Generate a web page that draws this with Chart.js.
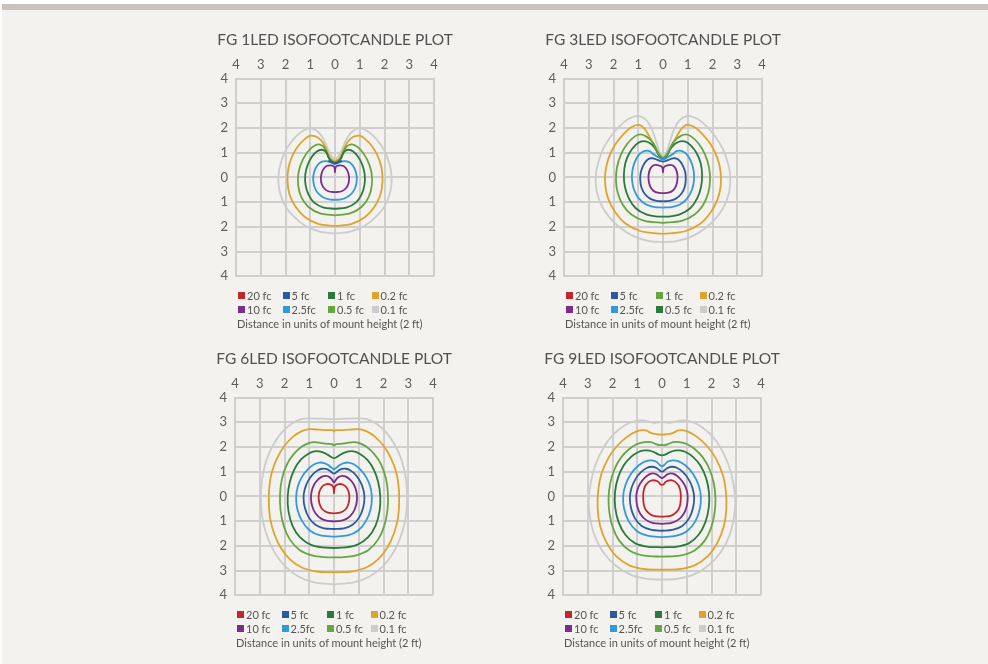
<!DOCTYPE html>
<html>
<head>
<meta charset="utf-8">
<script src="https://cdn.jsdelivr.net/npm/chart.js@4.4.1/dist/chart.umd.min.js"></script>
<style>
  html, body { margin: 0; padding: 0; background: #fff; }
  body { width: 988px; height: 664px; position: relative; overflow: hidden; font-family: Lato, "Open Sans", sans-serif; }
  #panel { position: absolute; left: 2px; top: 4px; right: 0; bottom: 0; background: #f3f2ee; border-top: 6px solid #c8c3be; }
  .plot canvas { position: absolute; }
  .legend { position: absolute; display: grid; grid-template-columns: 44.5px 45.5px 43.5px 60px; grid-auto-flow: column; grid-template-rows: 14.5px 14.5px; font-size: 11px; color: #555; }
  .legend span { display: flex; align-items: center; white-space: nowrap; }
  .legend i { display: inline-block; width: 7px; height: 7px; margin-right: 2px; }
  .caption { position: absolute; font-size: 11px; color: #555; white-space: nowrap; line-height: 14.5px; }
</style>
</head>
<body>
<div id="panel"></div>

<script>
// legend order is column by column: 20/10, 5/2.5, 1/0.5, 0.2/0.1
const levelLabels = ["20 fc", "10 fc", "5 fc", "2.5fc", "1 fc", "0.5 fc", "0.2 fc", "0.1 fc"];
const axisTicks = [-4, -3, -2, -1, 0, 1, 2, 3, 4];
const titles = ["FG 1LED ISOFOOTCANDLE PLOT", "FG 3LED ISOFOOTCANDLE PLOT", "FG 6LED ISOFOOTCANDLE PLOT", "FG 9LED ISOFOOTCANDLE PLOT"];
const caption = "Distance in units of mount height (2 ft)";

// right half of each contour, from top centre round to bottom centre (x, y in mount heights)
// FG 1LED
const p1_20 = [];
const p1_10 = [[0,0.2],[0.02,0.4],[0.07,0.46],[0.18,0.49],[0.32,0.47],[0.45,0.36],[0.54,0.17],[0.57,-0.05],[0.54,-0.26],[0.44,-0.44],[0.27,-0.56],[0,-0.6]];
const p1_5 = [[0,0.57],[0.1,0.6],[0.2,0.64],[0.28,0.66]];
const p1_25 = [[0,0.54],[0.1,0.58],[0.22,0.63],[0.38,0.66],[0.52,0.64],[0.66,0.55],[0.78,0.38],[0.86,0.15],[0.88,-0.1],[0.83,-0.38],[0.7,-0.62],[0.48,-0.8],[0.24,-0.89],[0,-0.91]];
const p1_1 = [[0,0.58],[0.1,0.62],[0.2,0.7],[0.27,0.82],[0.33,0.98],[0.42,1.08],[0.55,1.12],[0.72,1.06],[0.92,0.86],[1.1,0.52],[1.2,0.12],[1.19,-0.3],[1.07,-0.7],[0.84,-1.02],[0.46,-1.22],[0,-1.27]];
const p1_05 = [[0,0.62],[0.12,0.66],[0.22,0.76],[0.3,0.92],[0.37,1.1],[0.47,1.25],[0.62,1.33],[0.8,1.3],[1.05,1.1],[1.3,0.72],[1.47,0.22],[1.49,-0.3],[1.36,-0.8],[1.07,-1.2],[0.6,-1.46],[0,-1.54]];
const p1_02 = [[0,0.66],[0.1,0.7],[0.2,0.8],[0.28,0.98],[0.38,1.2],[0.5,1.42],[0.65,1.58],[0.82,1.67],[1.0,1.69],[1.2,1.57],[1.48,1.28],[1.72,0.88],[1.88,0.38],[1.92,-0.15],[1.84,-0.68],[1.6,-1.18],[1.22,-1.6],[0.68,-1.88],[0,-1.97]];
const p1_01 = [[0,0.74],[0.1,0.8],[0.2,0.98],[0.3,1.18],[0.4,1.42],[0.52,1.65],[0.7,1.86],[0.9,1.97],[1.05,1.98],[1.35,1.85],[1.7,1.52],[2.0,1.08],[2.2,0.55],[2.29,0],[2.24,-0.55],[2.04,-1.1],[1.7,-1.55],[1.22,-1.95],[0.62,-2.2],[0,-2.27]];

// FG 3LED
const p2_20 = [];
const p2_10 = [[0,0.2],[0.02,0.38],[0.08,0.45],[0.22,0.5],[0.38,0.49],[0.51,0.36],[0.58,0.12],[0.58,-0.12],[0.52,-0.36],[0.4,-0.53],[0.22,-0.62],[0,-0.64]];
const p2_5 = [[0,0.64],[0.12,0.67],[0.25,0.72],[0.4,0.77],[0.56,0.76],[0.7,0.64],[0.82,0.44],[0.9,0.2],[0.92,-0.08],[0.88,-0.38],[0.75,-0.65],[0.52,-0.86],[0.26,-0.95],[0,-0.97]];
const p2_25 = [[0,0.72],[0.1,0.76],[0.2,0.82],[0.32,0.9],[0.42,0.96],[0.5,1.04],[0.65,1.08],[0.82,1.04],[1.0,0.88],[1.15,0.6],[1.24,0.25],[1.25,-0.12],[1.17,-0.5],[0.98,-0.85],[0.68,-1.1],[0.35,-1.2],[0,-1.22]];
const p2_1 = [[0,0.8],[0.1,0.86],[0.2,1.0],[0.3,1.22],[0.4,1.4],[0.55,1.56],[0.72,1.68],[0.92,1.74],[1.15,1.65],[1.45,1.35],[1.7,0.92],[1.86,0.4],[1.9,-0.12],[1.83,-0.62],[1.62,-1.12],[1.28,-1.5],[0.75,-1.76],[0,-1.84]];
const p2_05 = [[0,0.76],[0.1,0.82],[0.2,0.95],[0.28,1.12],[0.38,1.26],[0.52,1.38],[0.7,1.46],[0.9,1.45],[1.12,1.3],[1.35,1.0],[1.52,0.58],[1.58,0.1],[1.54,-0.38],[1.38,-0.85],[1.1,-1.25],[0.68,-1.5],[0.3,-1.58],[0,-1.59]];
const p2_02 = [[0,0.78],[0.1,0.86],[0.2,1.0],[0.3,1.18],[0.4,1.38],[0.52,1.6],[0.68,1.88],[0.85,2.07],[1.02,2.13],[1.3,2.02],[1.62,1.72],[1.95,1.3],[2.2,0.78],[2.33,0.2],[2.33,-0.35],[2.2,-0.9],[1.92,-1.42],[1.5,-1.88],[0.9,-2.18],[0,-2.29]];
const p2_01 = [[0,0.8],[0.08,0.9],[0.15,1.05],[0.23,1.3],[0.32,1.58],[0.42,1.88],[0.55,2.15],[0.72,2.36],[0.9,2.46],[1.1,2.48],[1.4,2.36],[1.75,2.08],[2.1,1.68],[2.42,1.15],[2.63,0.55],[2.72,0],[2.68,-0.55],[2.5,-1.1],[2.18,-1.6],[1.72,-2.05],[1.15,-2.4],[0.55,-2.58],[0,-2.62]];

// FG 6LED
const p3_20 = [[0,0.12],[0.02,0.34],[0.07,0.44],[0.2,0.5],[0.35,0.48],[0.5,0.37],[0.6,0.16],[0.62,-0.08],[0.58,-0.32],[0.47,-0.52],[0.27,-0.65],[0,-0.69]];
const p3_10 = [[0,0.56],[0.08,0.68],[0.18,0.78],[0.32,0.83],[0.48,0.8],[0.65,0.68],[0.8,0.48],[0.9,0.22],[0.93,-0.08],[0.88,-0.4],[0.75,-0.68],[0.52,-0.9],[0.26,-0.99],[0,-1.01]];
const p3_5 = [[0,0.93],[0.1,0.98],[0.2,1.06],[0.33,1.11],[0.48,1.12],[0.65,1.06],[0.85,0.9],[1.05,0.62],[1.18,0.3],[1.23,-0.05],[1.18,-0.45],[1.02,-0.85],[0.75,-1.15],[0.4,-1.29],[0,-1.32]];
const p3_25 = [[0,1.1],[0.12,1.18],[0.25,1.28],[0.4,1.35],[0.58,1.37],[0.8,1.3],[1.05,1.1],[1.3,0.78],[1.47,0.38],[1.53,-0.05],[1.48,-0.52],[1.3,-0.98],[0.98,-1.38],[0.55,-1.58],[0,-1.63]];
const p3_1 = [[0,1.55],[0.12,1.6],[0.25,1.68],[0.4,1.76],[0.6,1.82],[0.8,1.82],[1.05,1.72],[1.35,1.48],[1.6,1.1],[1.78,0.6],[1.87,0],[1.84,-0.6],[1.68,-1.18],[1.38,-1.65],[0.95,-1.95],[0.48,-2.06],[0,-2.09]];
const p3_05 = [[0,2.06],[0.08,2.12],[0.25,2.13],[0.5,2.16],[0.78,2.2],[1.0,2.17],[1.3,2.02],[1.62,1.72],[1.9,1.3],[2.1,0.72],[2.18,0.1],[2.16,-0.55],[2.03,-1.2],[1.78,-1.75],[1.38,-2.18],[0.85,-2.4],[0.4,-2.46],[0,-2.47]];
const p3_02 = [[0,2.62],[0.05,2.68],[0.3,2.68],[0.6,2.7],[1.0,2.72],[1.3,2.64],[1.65,2.42],[2.0,2.05],[2.3,1.55],[2.52,0.95],[2.62,0.3],[2.63,-0.3],[2.58,-0.9],[2.42,-1.5],[2.15,-2.08],[1.78,-2.55],[1.3,-2.88],[0.7,-3.04],[0,-3.07]];
const p3_01 = [[0,3.13],[0.5,3.15],[1.0,3.16],[1.3,3.14],[1.7,2.95],[2.1,2.6],[2.45,2.1],[2.72,1.5],[2.88,0.85],[2.95,0.2],[2.94,-0.45],[2.85,-1.1],[2.65,-1.75],[2.35,-2.35],[1.95,-2.85],[1.42,-3.25],[0.8,-3.48],[0,-3.56]];

// FG 9LED
const p4_20 = [[0,0.47],[0.08,0.5],[0.13,0.58],[0.25,0.64],[0.4,0.65],[0.55,0.58],[0.68,0.42],[0.75,0.18],[0.76,-0.1],[0.72,-0.4],[0.6,-0.62],[0.4,-0.77],[0.2,-0.81],[0,-0.82]];
const p4_10 = [[0,0.74],[0.1,0.8],[0.2,0.88],[0.35,0.93],[0.5,0.9],[0.7,0.75],[0.88,0.52],[1.0,0.25],[1.04,-0.05],[1.0,-0.4],[0.88,-0.7],[0.65,-0.95],[0.35,-1.08],[0,-1.11]];
const p4_5 = [[0,1.0],[0.1,1.06],[0.22,1.15],[0.4,1.2],[0.6,1.16],[0.85,0.98],[1.07,0.7],[1.23,0.35],[1.3,-0.05],[1.25,-0.48],[1.1,-0.88],[0.82,-1.2],[0.42,-1.36],[0,-1.39]];
const p4_25 = [[0,1.22],[0.1,1.28],[0.22,1.4],[0.42,1.46],[0.65,1.43],[0.95,1.25],[1.25,0.92],[1.47,0.48],[1.57,0],[1.53,-0.5],[1.35,-1.0],[1.02,-1.4],[0.55,-1.6],[0,-1.65]];
const p4_1 = [[0,1.66],[0.15,1.7],[0.3,1.78],[0.5,1.85],[0.7,1.86],[0.95,1.8],[1.25,1.6],[1.55,1.25],[1.78,0.75],[1.9,0.15],[1.89,-0.45],[1.75,-1.05],[1.48,-1.55],[1.08,-1.9],[0.55,-2.04],[0,-2.06]];
const p4_05 = [[0,2.08],[0.12,2.08],[0.25,2.12],[0.45,2.2],[0.7,2.2],[1.0,2.12],[1.32,1.92],[1.65,1.58],[1.92,1.1],[2.1,0.5],[2.16,-0.1],[2.12,-0.7],[1.98,-1.28],[1.72,-1.8],[1.3,-2.2],[0.72,-2.4],[0,-2.44]];
const p4_02 = [[0,2.5],[0.25,2.52],[0.45,2.57],[0.62,2.66],[0.8,2.68],[1.05,2.62],[1.4,2.42],[1.78,2.08],[2.15,1.58],[2.45,0.9],[2.58,0.2],[2.6,-0.5],[2.5,-1.2],[2.25,-1.85],[1.85,-2.42],[1.3,-2.8],[0.65,-2.95],[0,-2.97]];
const p4_01 = [[0,3.0],[0.15,3.0],[0.3,2.97],[0.5,3.02],[0.8,3.08],[1.1,3.05],[1.5,2.88],[1.95,2.52],[2.35,2.0],[2.68,1.3],[2.88,0.55],[2.96,-0.2],[2.9,-0.9],[2.72,-1.6],[2.38,-2.25],[1.88,-2.8],[1.25,-3.18],[0.6,-3.34],[0,-3.37]];

const plotContours = [
  [p1_20, p1_10, p1_5, p1_25, p1_1, p1_05, p1_02, p1_01],
  [p2_20, p2_10, p2_5, p2_25, p2_1, p2_05, p2_02, p2_01],
  [p3_20, p3_10, p3_5, p3_25, p3_1, p3_05, p3_02, p3_01],
  [p4_20, p4_10, p4_5, p4_25, p4_1, p4_05, p4_02, p4_01]
];

const colors = ["#c1272d", "#7b2d8c", "#2b5aa0", "#3399d8", "#2b7a3b", "#67a53f", "#dfa42b", "#cbcccd"];
// the 3LED plot has its two greens the other way round
const colors3led = ["#c1272d", "#7b2d8c", "#2b5aa0", "#3399d8", "#67a53f", "#2b7a3b", "#dfa42b", "#cbcccd"];
const plotColors = [colors, colors3led, colors, colors];

// chart area top-left corners on the page
const plotPos = [[236, 78], [564, 78], [235, 397], [563, 397]];
const AREA = 198;

function fullContour(half) {
  const left = half.slice().reverse().map(p => ({ x: -p[0], y: p[1] }));
  const right = half.slice(1).map(p => ({ x: p[0], y: p[1] }));
  return left.concat(right);
}

const gridColor = "#cfcfcf";
const textColor = "#5e5e60";

plotPos.forEach((pos, k) => {
  const [ax, ay] = pos;
  const canvas = document.createElement("canvas");
  canvas.style.left = (ax - 31) + "px";
  canvas.style.top = (ay - 53) + "px";
  canvas.width = 260;
  canvas.height = 267;
  canvas.style.width = "260px";
  canvas.style.height = "267px";
  const wrap = document.createElement("div");
  wrap.className = "plot";
  wrap.appendChild(canvas);
  document.body.appendChild(wrap);

  const datasets = levelLabels.map((lab, i) => ({
    label: lab,
    data: fullContour(plotContours[k][i]),
    borderColor: plotColors[k][i],
    backgroundColor: plotColors[k][i],
    borderWidth: 1.8,
    pointRadius: 0,
    showLine: true,
    fill: false,
    tension: 0.3
  }));

  new Chart(canvas, {
    type: "scatter",
    data: { datasets },
    options: {
      responsive: false,
      animation: false,
      layout: { padding: { left: 0, right: 0, top: 6, bottom: 8 } },
      plugins: {
        legend: { display: false },
        tooltip: { enabled: false },
        title: {
          display: true,
          text: titles[k],
          color: "#505052",
          font: { family: "Lato", size: 15.5, weight: "normal" },
          padding: { top: 0, bottom: 0 }
        }
      },
      scales: {
        x: {
          type: "linear", position: "top", min: -4, max: 4,
          afterBuildTicks: s => { s.ticks = axisTicks.map(v => ({ value: v })); },
          afterFit: s => { s.height = 29; },
          ticks: { callback: v => Math.abs(v), color: textColor, font: { family: "Lato", size: 13 }, padding: 6, maxRotation: 0 },
          grid: { color: gridColor, lineWidth: 2, drawTicks: false },
          border: { color: gridColor, width: 2 }
        },
        y: {
          type: "linear", position: "left", min: -4, max: 4,
          afterBuildTicks: s => { s.ticks = axisTicks.map(v => ({ value: v })); },
          afterFit: s => { s.width = 31; },
          ticks: { callback: v => Math.abs(v), color: textColor, font: { family: "Lato", size: 13 }, padding: 8 },
          grid: { color: gridColor, lineWidth: 2, drawTicks: false },
          border: { color: gridColor, width: 2 }
        },
        // empty right-hand axis so the title centres over the plot
        yRight: {
          type: "linear", position: "right", min: -4, max: 4,
          afterFit: s => { s.width = 31; },
          ticks: { display: false },
          grid: { display: false },
          border: { display: false }
        }
      }
    }
  });

  const legend = document.createElement("div");
  legend.className = "legend";
  legend.style.left = (ax + 2) + "px";
  legend.style.top = (ay + AREA + 12) + "px";
  levelLabels.forEach((lab, i) => {
    const s = document.createElement("span");
    s.innerHTML = `<i style="background:${plotColors[k][i]}"></i>${lab}`;
    legend.appendChild(s);
  });
  document.body.appendChild(legend);

  const cap = document.createElement("div");
  cap.className = "caption";
  cap.style.left = (ax + 1) + "px";
  cap.style.top = (ay + AREA + 12 + 29) + "px";
  cap.textContent = caption;
  document.body.appendChild(cap);
});
</script>
</body>
</html>
